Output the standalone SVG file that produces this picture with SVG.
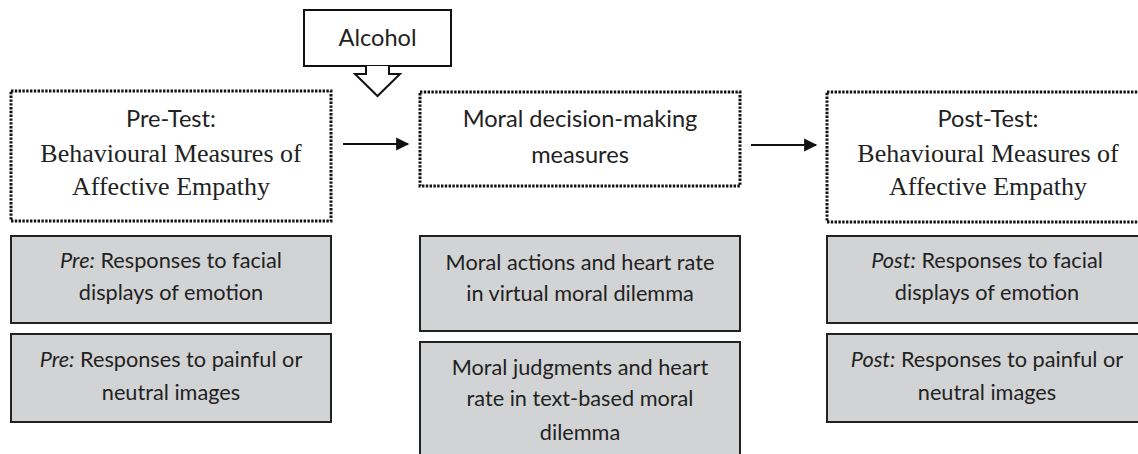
<svg xmlns="http://www.w3.org/2000/svg" width="1138" height="454" viewBox="0 0 1138 454">
<style>
.dot{fill:#fff;stroke:#111;stroke-width:3;stroke-dasharray:2.4 1.4}
.gray{fill:#d1d3d4;stroke:#222;stroke-width:2}
.sans{font-family:Lato,"Liberation Sans",sans-serif;font-size:23.6px;fill:#222;text-anchor:middle}
.small{font-size:21.7px}
.serif{font-family:"Liberation Serif","Times New Roman",serif;font-size:26px;fill:#222;text-anchor:middle}
.conn{stroke:#111;stroke-width:2.2;fill:none}
</style>
<defs>
<marker id="ah" viewBox="0 0 10 10" refX="9" refY="5" markerWidth="6.5" markerHeight="6" orient="auto" markerUnits="strokeWidth">
<path d="M0,0 L10,5 L0,10 Z" fill="#111"/>
</marker>
</defs>
<rect width="1138" height="454" fill="#fff"/>
<g id="alcohol">
<rect x="304" y="10" width="147" height="56" fill="#fff" stroke="#111" stroke-width="2"/>
<path d="M366,66 L366,74 L355,74 L377.5,96 L400,74 L389,74 L389,66" fill="#fff" stroke="#111" stroke-width="2"/>
<text class="sans" x="377.5" y="46">Alcohol</text>
</g>
<g id="pretest">
<rect class="dot" x="11" y="91" width="320" height="130"/>
<text class="sans" x="171" y="127">Pre-Test:</text>
<text class="serif" x="171" y="162">Behavioural Measures of</text>
<text class="serif" x="171" y="195">Affective Empathy</text>
</g>
<g id="moral">
<rect class="dot" x="420" y="92" width="320" height="94"/>
<text class="sans" x="580" y="127">Moral decision-making</text>
<text class="sans" x="580" y="163">measures</text>
</g>
<g id="posttest">
<rect class="dot" x="827" y="92" width="320" height="130"/>
<text class="sans" x="988" y="127">Post-Test:</text>
<text class="serif" x="988" y="162">Behavioural Measures of</text>
<text class="serif" x="988" y="195">Affective Empathy</text>
</g>
<g id="pre-facial">
<rect class="gray" x="11" y="236" width="320" height="87"/>
<text class="sans small" x="171" y="268"><tspan font-style="italic">Pre:</tspan> Responses to facial</text>
<text class="sans small" x="171" y="300">displays of emotion</text>
</g>
<g id="pre-painful">
<rect class="gray" x="11" y="334" width="320" height="88"/>
<text class="sans small" x="171" y="367"><tspan font-style="italic">Pre:</tspan> Responses to painful or</text>
<text class="sans small" x="171" y="400">neutral images</text>
</g>
<g id="moral-actions">
<rect class="gray" x="420" y="236" width="320" height="95"/>
<text class="sans small" x="580" y="270">Moral actions and heart rate</text>
<text class="sans small" x="580" y="301">in virtual moral dilemma</text>
</g>
<g id="moral-judgments">
<rect class="gray" x="420" y="342" width="320" height="120"/>
<text class="sans small" x="580" y="375">Moral judgments and heart</text>
<text class="sans small" x="580" y="406">rate in text-based moral</text>
<text class="sans small" x="580" y="440">dilemma</text>
</g>
<g id="post-facial">
<rect class="gray" x="827" y="236" width="320" height="87"/>
<text class="sans small" x="987" y="268"><tspan font-style="italic">Post:</tspan> Responses to facial</text>
<text class="sans small" x="987" y="300">displays of emotion</text>
</g>
<g id="post-painful">
<rect class="gray" x="827" y="334" width="320" height="88"/>
<text class="sans small" x="987" y="367"><tspan font-style="italic">Post:</tspan> Responses to painful or</text>
<text class="sans small" x="987" y="400">neutral images</text>
</g>
<g id="connectors">
<line class="conn" x1="343" y1="144" x2="408" y2="144" marker-end="url(#ah)"/>
<line class="conn" x1="751" y1="145" x2="816" y2="145" marker-end="url(#ah)"/>
</g>
</svg>
